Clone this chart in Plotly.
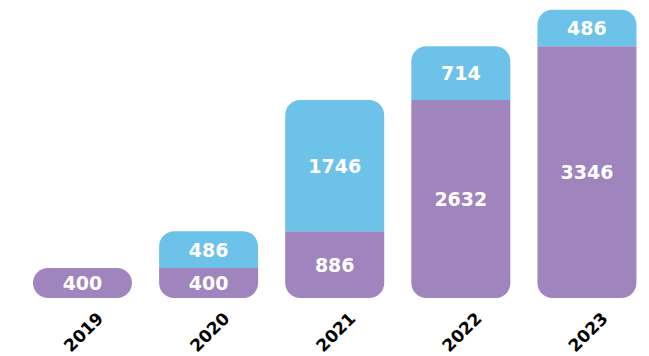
import plotly.graph_objects as go

# Yearly totals split into two parts
years = ["2019", "2020", "2021", "2022", "2023"]
base_part = [400, 400, 886, 2632, 3346]
top_part = [0, 486, 1746, 714, 486]

PURPLE = "#A084BD"
BLUE = "#6CC2E8"

W, H = 649, 356
X_RANGE = [-0.654, 4.492]
Y_RANGE = [0, 3960]
M_T, M_B = 0, 58
BAR_W = 0.785
RADIUS_PX = 15

xs = list(range(len(years)))
px_x = W / (X_RANGE[1] - X_RANGE[0])
px_y = (H - M_T - M_B) / (Y_RANGE[1] - Y_RANGE[0])
K = 0.5523


def seg_path(x0, x1, y0, y1, round_bottom, round_top):
    """Rectangle in data units with optionally rounded bottom / top corners."""
    h_px = (y1 - y0) * px_y
    n = int(round_bottom) + int(round_top)
    r_px = min(RADIUS_PX, h_px / max(n, 1))
    rx = r_px / px_x
    ry = r_px / px_y
    f = lambda v: f"{v:.5f}"
    p = []
    if round_bottom:
        p.append(f"M{f(x0)},{f(y0 + ry)}")
        p.append(f"C{f(x0)},{f(y0 + ry * (1 - K))} {f(x0 + rx * (1 - K))},{f(y0)} {f(x0 + rx)},{f(y0)}")
        p.append(f"L{f(x1 - rx)},{f(y0)}")
        p.append(f"C{f(x1 - rx * (1 - K))},{f(y0)} {f(x1)},{f(y0 + ry * (1 - K))} {f(x1)},{f(y0 + ry)}")
    else:
        p.append(f"M{f(x0)},{f(y0)}")
        p.append(f"L{f(x1)},{f(y0)}")
    if round_top:
        p.append(f"L{f(x1)},{f(y1 - ry)}")
        p.append(f"C{f(x1)},{f(y1 - ry * (1 - K))} {f(x1 - rx * (1 - K))},{f(y1)} {f(x1 - rx)},{f(y1)}")
        p.append(f"L{f(x0 + rx)},{f(y1)}")
        p.append(f"C{f(x0 + rx * (1 - K))},{f(y1)} {f(x0)},{f(y1 - ry * (1 - K))} {f(x0)},{f(y1 - ry)}")
    else:
        p.append(f"L{f(x1)},{f(y1)}")
        p.append(f"L{f(x0)},{f(y1)}")
    p.append("Z")
    return " ".join(p)


shapes = []
for i, (b, t) in enumerate(zip(base_part, top_part)):
    x0, x1 = xs[i] - BAR_W / 2, xs[i] + BAR_W / 2
    shapes.append(dict(type="path", xref="x", yref="y", layer="below",
                       path=seg_path(x0, x1, 0, b, True, t == 0),
                       fillcolor=PURPLE, line=dict(width=0)))
    if t > 0:
        shapes.append(dict(type="path", xref="x", yref="y", layer="below",
                           path=seg_path(x0, x1, b, b + t, False, True),
                           fillcolor=BLUE, line=dict(width=0)))

label_font = dict(family="DejaVu Sans", size=19, color="white", weight="bold")

fig = go.Figure()
fig.add_trace(go.Bar(
    x=xs, y=base_part, width=BAR_W,
    marker=dict(color="rgba(0,0,0,0)", line=dict(width=0)),
    text=[str(v) for v in base_part], textposition="inside",
    insidetextanchor="middle", textangle=0, constraintext="none",
    textfont=label_font, hoverinfo="skip",
))
fig.add_trace(go.Bar(
    x=xs, y=top_part, width=BAR_W,
    marker=dict(color="rgba(0,0,0,0)", line=dict(width=0)),
    text=[str(v) if v else "" for v in top_part], textposition="inside",
    insidetextanchor="middle", textangle=0, constraintext="none",
    textfont=label_font, hoverinfo="skip",
))

fig.update_layout(
    width=W, height=H,
    margin=dict(l=0, r=0, t=M_T, b=M_B, autoexpand=False),
    barmode="stack",
    showlegend=False,
    plot_bgcolor="white", paper_bgcolor="white",
    shapes=shapes,
    uniformtext=dict(mode=False),
    xaxis=dict(
        range=X_RANGE, tickmode="array", tickvals=xs, ticktext=years,
        tickangle=-45, showgrid=False, zeroline=False, showline=False,
        automargin=False,
        ticks="", ticklabelshift=16, ticklabelstandoff=6,
        tickfont=dict(family="DejaVu Sans", size=17, color="black", weight="bold"),
    ),
    yaxis=dict(range=Y_RANGE, visible=False, showgrid=False, zeroline=False,
               automargin=False),
)

fig.write_html("out.html")
